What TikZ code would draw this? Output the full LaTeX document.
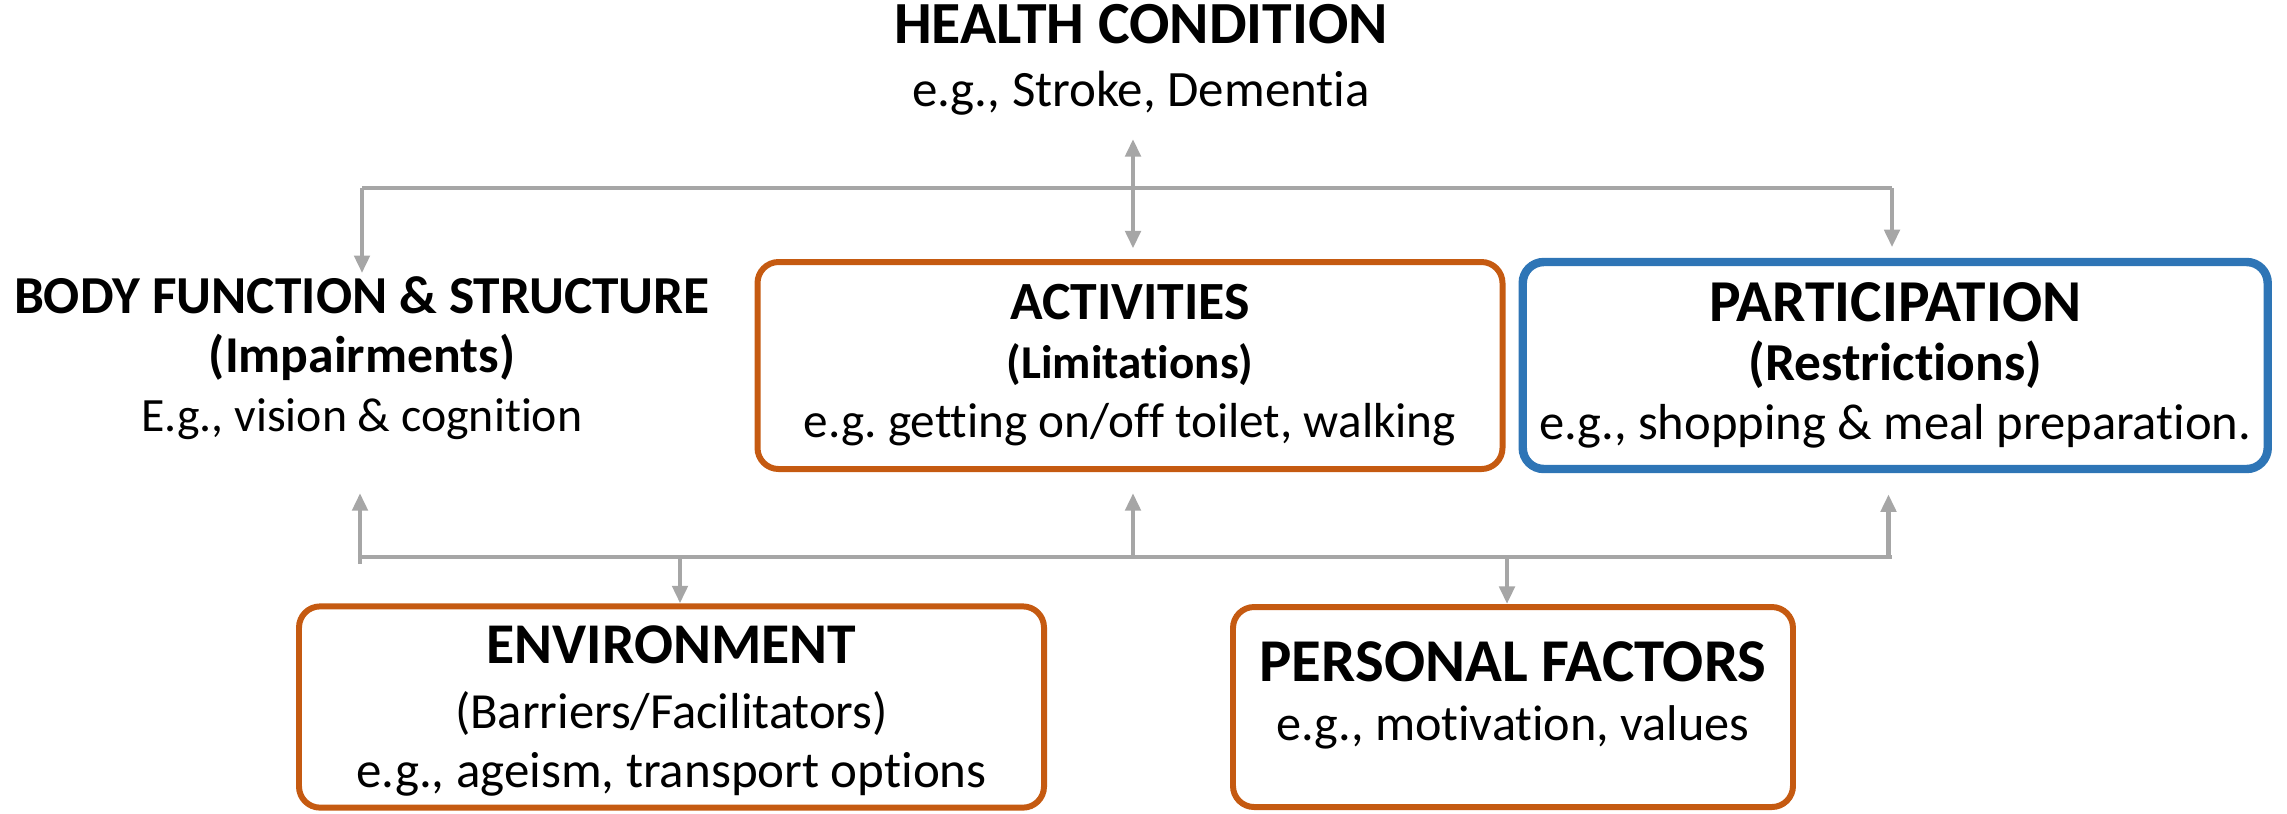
\documentclass[tikz,border=0pt]{standalone}
\usepackage{fontspec}
\setmainfont{Carlito}[Ligatures=NoCommon]
\usepackage{tikz}
\usetikzlibrary{arrows.meta,positioning}

\definecolor{linegray}{HTML}{A6A6A6}
\definecolor{boxorange}{HTML}{C55A11}
\definecolor{boxblue}{HTML}{2E75B6}

\newcommand{\ttl}[2]{{\fontsize{#1}{16.8}\selectfont\bfseries #2}}
\newcommand{\txt}[2]{{\fontsize{#1}{16.8}\selectfont #2}}

\begin{document}
\begin{tikzpicture}[>={Triangle[length=5pt,width=4.3pt]},node distance=1cm,
                    link/.style={draw=linegray,line width=1.4pt},
                    box/.style={draw=boxorange,line width=1.7pt,rounded corners=6pt,align=center,
                                font=\fontsize{14}{16.8}\selectfont},
                    free/.style={align=center,font=\fontsize{14}{16.8}\selectfont}]

  \useasboundingbox (0,0) rectangle (22.87,-8.13);

  \node[free] (health) at (11.41,-0.60) {\ttl{17}{HEALTH CONDITION}\\[1pt] \txt{14.5}{e.g., Stroke, Dementia}};
  \node[free] (body) at (3.62,-3.58) {\ttl{15.2}{BODY FUNCTION \& STRUCTURE}\\ \ttl{14.7}{(Impairments)}\\ \txt{13.6}{E.g., vision \& cognition}};
  \node[box, minimum width=7.45cm, minimum height=2.07cm] (act) at (11.30,-3.655)
       {\ttl{15.3}{ACTIVITIES}\\ \ttl{13.4}{(Limitations)}\\ e.g.\ getting on/off toilet, walking};
  \node[box, draw=boxblue, line width=2.4pt, minimum width=7.45cm, minimum height=2.07cm]
       [right = 0.13cm of act] (part)
       {\ttl{16.9}{PARTICIPATION}\\ \ttl{15.2}{(Restrictions)}\\ \txt{14.4}{e.g., shopping \& meal preparation.}};
  \node[box, minimum width=7.45cm, minimum height=2.0cm] (env) at (6.715,-7.07)
       {\rule{0pt}{13pt}\ttl{16.4}{ENVIRONMENT}\\[1.5pt] \txt{14.4}{(Barriers/Facilitators)}\\ \txt{14.5}{e.g., ageism, transport options}};
  \node[box, minimum width=5.6cm, minimum height=2.0cm] [right = 1.83cm of env] (pers)
       {\ttl{17.3}{PERSONAL FACTORS}\\[0pt] \txt{14.3}{e.g., motivation, values}\\[-7.6pt]\mbox{}};

  % upper bar
  \coordinate (tl) at (3.62,-1.88);
  \coordinate (tr) at (18.92,-1.88);
  \coordinate (hc) at (11.33,-1.39);
  \draw[link] (tl) -- (tr);
  \draw[link,->] (tl) -- ([yshift=-2.6pt]tl |- body.north);
  \draw[link,<->,shorten >=3pt] (hc) -- (hc |- act.north);
  \draw[link,->,shorten >=3pt] (tr) -- (tr |- part.north);

  % lower bar
  \coordinate (bl) at (3.60,-5.57);
  \coordinate (br) at (18.92,-5.57);
  \coordinate (ea) at (6.80,-5.57);
  \coordinate (pa) at (15.07,-5.57);
  \draw[link] (bl) -- (br);
  \draw[link,->,shorten >=6pt] ([yshift=-2pt]bl) -- (bl |- act.south);
  \draw[link,->,shorten >=6pt] (hc |- bl) -- (hc |- act.south);
  \draw[link,->,shorten >=6pt] ([xshift=-1pt]br) -- ([xshift=-1pt]br |- part.south);
  \draw[link,->] (ea) -- (ea |- env.north);
  \draw[link,->] (pa) -- (pa |- pers.north);

\end{tikzpicture}
\end{document}
